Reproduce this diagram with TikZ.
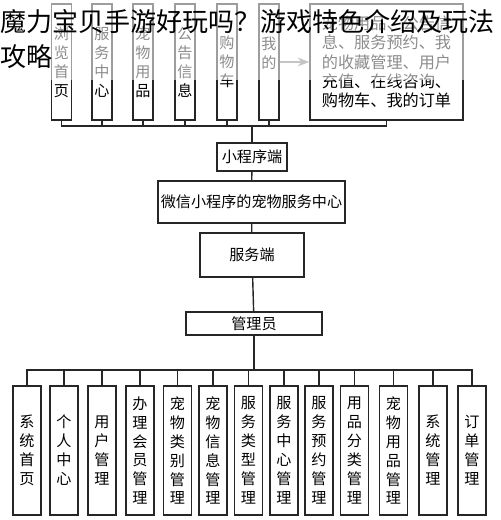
\documentclass[tikz,border=0pt]{standalone}
\usepackage{fontspec}
\setmainfont{Noto Sans CJK SC}
\newfontfamily\cjk{Noto Sans CJK SC}
\usetikzlibrary{arrows.meta, positioning}

\begin{document}
\begin{tikzpicture}[x=0.02cm, y=-0.02cm, >=Stealth,
  box/.style={draw=black!85, line width=0.8pt, inner sep=0pt, align=center, font=\cjk\fontsize{8.6}{10.8}\selectfont},
  tcol/.style={box, minimum width=0.4cm, minimum height=2.32cm},
  bcol/.style={box, minimum width=0.56cm, minimum height=2.58cm},
  link/.style={draw=black!85, line width=0.8pt}]
\useasboundingbox (0,0) rectangle (500,520);

% top row: mini program pages
\node[tcol] (lan)  at (61.5,62) {浏\\览\\首\\页};
\node[tcol] (fwzx) at (102,62)  {服\\务\\中\\心};
\node[tcol] (cwyp) at (143,62)  {宠\\物\\用\\品};
\node[tcol] (ggxx) at (185,62)  {公\\告\\信\\息};
\node[tcol] (gwc)  at (227,62)  {购\\物\\车};
\node[tcol] (wode) at (269,62)  {我\\的\\\mbox{}};
\node[box, minimum width=3.06cm, minimum height=2.32cm, align=left,
      font=\cjk\fontsize{9.2}{11}\selectfont] (wdmenu) at (386.5,62)
      {宠物用品、公告信\\息、服务预约、我\\的收藏管理、用户\\充值、在线咨询、\\购物车、我的订单};
\draw[->, gray, line width=0.8pt] (wode) -- (wdmenu);

% middle column
\node[box, minimum width=1.4cm, minimum height=0.56cm]  (xcx)  at (252,157)   {小程序端};
\node[box, minimum width=3.74cm, minimum height=0.84cm] (wxzx) at (251.5,202) {微信小程序的宠物服务中心};
\node[box, minimum width=2.08cm, minimum height=0.88cm] (fwd)  at (252,255)   {服务端};
\node[box, minimum width=2.72cm, minimum height=0.46cm] (gly)  at (254,323.5) {管理员};

\coordinate (tbus) at (252,126);
\coordinate (bbus) at (254,370);
\foreach \n in {lan, fwzx, cwyp, ggxx, gwc, wode, wdmenu}
  \draw[link] (\n.south) |- (tbus);
\draw[link] (tbus) -- (xcx.north);
\draw[link] (xcx) -- (wxzx);
\draw[link] (wxzx) -- (fwd);
\draw[link] (fwd) -- (gly);
\draw[link] (gly) -- (bbus);

% bottom row: admin functions
\node[bcol] (xtsy) at (27,450.5)    {系\\统\\首\\页};
\node[bcol] (grzx) at (64,450.5)    {个\\人\\中\\心};
\node[bcol] (yhgl) at (102,450.5)   {用\\户\\管\\理};
\node[bcol] (hygl) at (140,450.5)   {办\\理\\会\\员\\管\\理};
\node[bcol] (lbgl) at (177.5,450.5) {宠\\物\\类\\别\\管\\理};
\node[bcol] (xxgl) at (213,450.5)   {宠\\物\\信\\息\\管\\理};
\node[bcol] (lxgl) at (248.5,450.5) {服\\务\\类\\型\\管\\理};
\node[bcol] (zxgl) at (284,450.5)   {服\\务\\中\\心\\管\\理};
\node[bcol] (yygl) at (319,450.5)   {服\\务\\预\\约\\管\\理};
\node[bcol] (flgl) at (354.5,450.5) {用\\品\\分\\类\\管\\理};
\node[bcol] (ypgl) at (393.5,450.5) {宠\\物\\用\\品\\管\\理};
\node[bcol] (xtgl) at (433,450.5)   {系\\统\\管\\理};
\node[bcol] (ddgl) at (472,450.5)   {订\\单\\管\\理};
\foreach \n in {xtsy, grzx, yhgl, hygl, lbgl, xxgl, lxgl, zxgl, yygl, flgl, ypgl, xtgl, ddgl}
  \draw[link] (bbus) -| (\n.north);

% faded band and heading over the top
\fill[white, fill opacity=0.55] (0,0) rectangle (500,80);
\node[anchor=north west, inner sep=0pt, align=left, font=\cjk\fontsize{14.8}{19.8}\selectfont] (title) at (0,9)
  {魔力宝贝手游好玩吗？游戏特色介绍及玩法\\攻略};
\end{tikzpicture}
\end{document}
